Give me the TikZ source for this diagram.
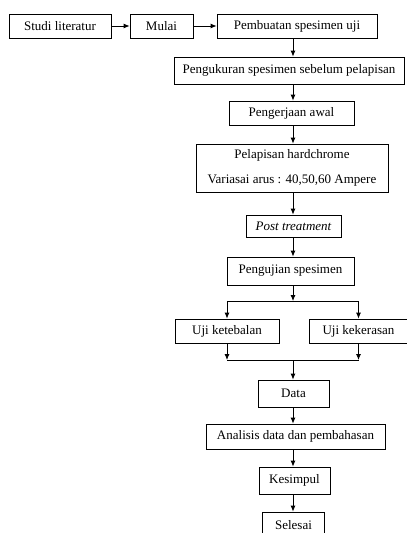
\documentclass[tikz,border=0pt]{standalone}
\usepackage{fontspec}
\setmainfont{Liberation Serif}
\usetikzlibrary{arrows.meta}
\begin{document}
\begin{tikzpicture}[x=1pt,y=1pt,
  box/.style={draw, line width=0.8pt, inner sep=0pt, font=\fontsize{13}{15}\selectfont},
  arr/.style={line width=0.8pt, -{Latex[length=6pt,width=5pt]}},
  ln/.style={line width=0.8pt}]
\fill[white] (0,0) rectangle (407,-533);
\clip (0,0) rectangle (407,-533);
\useasboundingbox (0,0) rectangle (407,-533);
\coordinate (axis) at (293,0);
\node[box, minimum width=102, minimum height=24] (studi) at (60,-26) {Studi literatur};
\node[box, minimum width=63, minimum height=24] (mulai) at (161.5,-26) {Mulai};
\node[box, minimum width=160, minimum height=24] (pembuatan) at (297,-26) {Pembuatan spesimen uji};
\node[box, minimum width=230, minimum height=27] (pengukuran) at (289,-70.5) {Pengukuran spesimen sebelum pelapisan};
\node[box, minimum width=125, minimum height=24] (pengerjaan) at (291.5,-113) {Pengerjaan awal};
\node[box, minimum width=192, minimum height=48, align=center] (pelapisan) at (292,-168) {Pelapisan hardchrome\\[10pt]Variasai arus : 40,50,60 Ampere};
\node[box, minimum width=95, minimum height=22] (post) at (293.5,-226) {\itshape Post treatment};
\node[box, minimum width=127, minimum height=28] (pengujian) at (290.5,-271) {Pengujian spesimen};
\node[box, minimum width=104, minimum height=24] (tebal) at (227,-331) {Uji ketebalan};
\node[box, minimum width=99, minimum height=24] (keras) at (358.5,-331) {Uji kekerasan};
\node[box, minimum width=71, minimum height=27] (data) at (293.5,-393.5) {Data};
\node[box, minimum width=179, minimum height=25] (analisis) at (295.5,-436.5) {Analisis data dan pembahasan};
\node[box, minimum width=71, minimum height=27] (kesimpul) at (294.5,-480.5) {Kesimpul};
\node[box, minimum width=62, minimum height=26] (selesai) at (293.5,-525) {Selesai};
\coordinate (split) at (293,-301);
\coordinate (join) at (293,-360);
\draw[arr] (studi) -- (mulai);
\draw[arr] (mulai) -- (pembuatan);
\draw[arr] (pembuatan.south -| axis) -- (pengukuran.north -| axis);
\draw[arr] (pengukuran.south -| axis) -- (pengerjaan.north -| axis);
\draw[arr] (pengerjaan.south -| axis) -- (pelapisan.north -| axis);
\draw[arr] (pelapisan.south -| axis) -- (post.north -| axis);
\draw[arr] (post.south -| axis) -- (pengujian.north -| axis);
\draw[arr] (pengujian.south -| axis) -- (split);
\draw[ln] (split -| tebal.north) -- (split -| keras.north);
\draw[arr] (split -| tebal.north) -- (tebal.north);
\draw[arr] (split -| keras.north) -- (keras.north);
\draw[arr] (tebal.south) -- (join -| tebal.south);
\draw[arr] (keras.south) -- (join -| keras.south);
\draw[ln] (join -| tebal.south) -- (join -| keras.south);
\draw[arr] (join) -- (data.north -| axis);
\draw[arr] (data.south -| axis) -- (analisis.north -| axis);
\draw[arr] (analisis.south -| axis) -- (kesimpul.north -| axis);
\draw[arr] (kesimpul.south -| axis) -- (selesai.north -| axis);
\end{tikzpicture}
\end{document}
